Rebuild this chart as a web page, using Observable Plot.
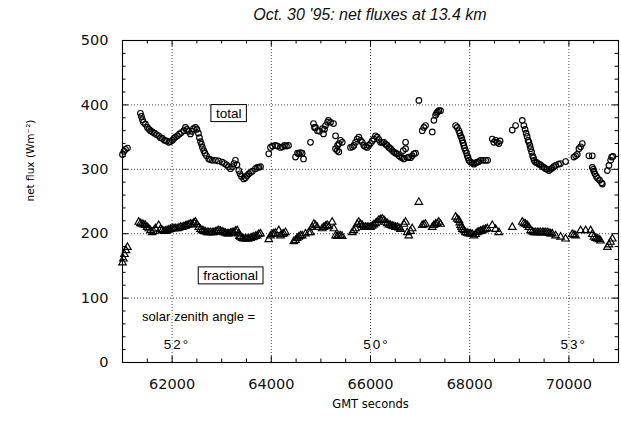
<!DOCTYPE html>
<html><head><meta charset="utf-8">
<script src="https://cdn.jsdelivr.net/npm/d3@7"></script>
<script src="https://cdn.jsdelivr.net/npm/@observablehq/plot@0.6"></script>
<style>
body{margin:0;background:#fff;}
#title{width:621px;height:28px;box-sizing:border-box;padding-left:122px;padding-right:3px;text-align:center;font:italic 16px "Liberation Sans",sans-serif;line-height:30px;color:#111;}
#chart svg{display:block;}
</style></head><body>
<div id="title">Oct. 30 '95: net fluxes at 13.4 km</div>
<div id="chart"></div>
<script>
// ---- data: total net flux (circles) ----
const totalX = [61000,61030,61060,61100,
61361,61381,61402,61422,61462,61502,61533,61563,61603,61644,61684,61730,61765,61805,61845,61886,61932,61966,62006,62037,62067,62107,62148,62188,62235,62269,62299,62329,62370,62400,62430,62471,62501,62531,62551,62572,62592,62612,62638,62662,62693,62739,62773,62813,62874,62935,63009,63056,63096,63136,63177,63217,63247,63277,63308,63344,63369,63399,63445,63479,63510,63546,63580,63620,63681,63721,63752,63782,
63949,63983,64024,64084,64125,64185,64225,64266,64306,64346,
64488,64528,64554,64588,64622,64649,64790,
64851,64871,64891,64931,64972,65032,65052,65073,65093,65133,65153,65194,65254,65295,
65295,65329,65335,65362,65365,65395,65430,
65597,65637,65664,65698,65732,65764,65799,65833,65865,65900,65934,65966,66000,66035,66067,66101,66135,66168,66202,66236,66269,66303,66337,66370,66404,66438,66471,66505,66539,66572,66606,66640,66673,66660,66707,66707,66747,66773,66807,66841,66875,66908,
66975,
67043,67076,67110,67245,67278,67312,67332,67352,67378,67412,
67715,67749,67781,67800,67816,67836,67850,67866,67882,67896,67916,67937,67951,67967,67983,68017,68052,68085,68119,68153,68186,68220,68271,68321,68361,
68455,68487,68522,68556,68588,68612,
68858,68925,69060,69092,69116,69137,69157,69177,69193,69213,69228,69248,69268,69284,69298,69328,69359,69395,69429,69464,69496,69530,69560,69597,69631,69665,69697,69732,69792,69832,69933,
70101,70135,70169,70202,70236,70270,70403,70472,
70472,70492,70504,70525,70553,70579,70619,70660,70674,
70775,70807,70841,70861,70887];
const totalY = [323,328,331,333,
387,382,377,373,370,365,362,360,358,356,354,352,349,348,345,344,342,343,345,348,350,352,355,357,360,365,362,359,355,359,363,365,362,356,349,343,339,334,329,325,321,316,315,314,314,313,311,309,307,304,301,304,309,314,307,298,293,289,285,287,290,293,295,297,301,303,303,304,
324,334,336,337,336,334,335,337,336,337,
319,325,324,326,325,316,342,
371,365,365,360,359,363,355,362,368,373,376,373,371,352,
332,329,337,327,340,345,342,
334,335,337,342,347,350,345,342,337,335,334,337,340,344,347,352,350,346,342,342,342,339,337,334,332,329,327,325,324,321,319,318,316,329,332,342,318,319,318,321,324,325,
407,
360,365,368,358,376,384,387,389,391,391,
368,365,360,356,352,349,345,341,337,333,329,325,321,318,314,311,310,308,310,311,312,314,314,314,314,
347,342,345,342,340,344,
361,368,376,368,362,356,351,345,342,337,332,327,321,318,314,311,310,308,307,304,303,301,300,298,300,302,304,306,308,309,312,
319,321,323,332,335,340,321,321,
303,300,297,293,289,286,283,279,277,
298,306,314,319,320];

// ---- data: fractional net flux (triangles) ----
const fracX = [61000,61018,61039,61069,61099,
61327,61361,61395,61428,61462,61496,61529,61563,61597,61624,61664,61730,61765,61799,61835,61866,61900,61936,61966,62001,62037,62067,62101,62138,62168,62202,62239,62269,62303,62339,62370,62404,62440,62471,62501,62537,62572,62606,62638,62672,62707,62739,62773,62807,62840,62874,62908,62941,62975,63009,63042,63076,63110,63142,63177,63211,63243,63277,63312,63338,63358,63378,63412,63445,63479,63513,63546,63580,63614,63647,63681,63715,63748,63782,
63949,63983,64018,64050,64084,64151,64185,64219,64252,64286,
64453,64488,64522,64554,64588,64622,64689,64756,64790,64824,64858,64891,64925,65026,65059,65093,65127,65160,65227,65261,65295,65329,65362,65396,65429,
65631,65664,65698,65732,65764,65799,65833,65865,65900,65934,65966,66000,66035,66067,66101,66135,66168,66202,66236,66269,66303,66337,66370,66404,66438,66471,66505,66539,66572,66606,66673,66707,66741,66773,66807,66841,
66975,
67043,67076,67110,67245,67278,67312,67345,67378,67412,
67715,67749,67781,67800,67816,67832,67850,67882,67916,67951,67983,68017,68052,68085,68119,68153,68186,68220,68254,68286,68321,68355,68455,68522,68588,
68858,69060,69092,69126,69160,69193,69228,69262,69294,69328,69362,69395,69429,69464,69496,69530,69564,69597,69631,69665,69732,69832,69933,
70068,70101,70135,70236,70337,70438,70472,70504,70539,70573,70605,70639,70775,70807,70841,70875];
const fracY = [155,161,168,174,179,
218,216,215,214,213,210,208,205,202,204,208,213,207,205,204,204,205,206,207,208,208,208,208,209,210,210,211,212,213,214,215,215,217,218,214,210,207,205,204,203,202,202,202,202,202,203,204,205,204,203,202,201,200,200,201,202,202,204,205,200,196,195,193,192,192,192,192,193,194,195,196,197,199,200,
191,197,199,200,201,205,197,199,200,202,
188,190,193,195,197,197,200,202,202,210,215,213,210,208,210,212,213,211,218,208,197,196,197,197,196,
202,205,208,215,218,215,213,210,210,210,210,210,212,214,216,218,221,222,223,221,218,216,214,213,212,211,210,210,209,207,215,218,202,197,204,208,
249,
213,214,215,210,213,215,216,218,215,
226,223,221,217,213,210,207,205,202,201,200,200,199,197,199,202,203,204,205,206,207,208,213,207,202,
210,218,216,215,213,210,205,203,202,202,202,202,202,202,202,202,202,201,200,200,197,195,192,
199,198,197,205,205,205,199,195,193,192,191,189,179,183,187,192];

// ---- axes ----
const xMajor = [62000,64000,66000,68000,70000];
const xMinor = [61500,62500,63000,63500,64500,65000,65500,66500,67000,67500,68500,69000,69500,70500];
const yMajor = [0,100,200,300,400,500];
const yGrid = [100,200,300,400];
const yMinor = [20,40,60,80,120,140,160,180,220,240,260,280,320,340,360,380,420,440,460,480];

// ---- annotations ----
const boxText = ["total","fractional"];
const boxX = [63140,63180];
const boxY = [387,135];
const noteText = ["solar zenith angle ="];
const noteX = [61395];
const noteY = [71];
const angleText = ["52°","50°","53°"];
const angleX = [62100,66120,70095];
const angleY = [28,28,28];

const total = totalX.map((x,i)=>({x, y: totalY[i]}));
const frac = fracX.map((x,i)=>({x, y: fracY[i]}));
const boxes = boxText.map((t,i)=>({t, x: boxX[i], y: boxY[i]}));
const notes = noteText.map((t,i)=>({t, x: noteX[i], y: noteY[i]}));
const angles = angleText.map((t,i)=>({t, x: angleX[i], y: angleY[i]}));

const W = 621, H = 393, mT = 12, mB = 59, mL = 122, mR = 3;
const iW = W - mL - mR, iH = H - mT - mB;
const grid = {stroke: "#333", strokeOpacity: 1, strokeWidth: 0.9, strokeDasharray: "1,2"};
const tk = {stroke: "black", strokeWidth: 1};

const chart = Plot.plot({
  width: W, height: H,
  marginTop: mT, marginBottom: mB, marginLeft: mL, marginRight: mR,
  x: {domain: [61000, 71000]},
  y: {domain: [0, 500]},
  style: {fontFamily: "DejaVu Sans", background: "white", color: "#111"},
  marks: [
    Plot.gridX(xMajor, grid),
    Plot.gridY(yGrid, grid),
    Plot.ruleX(xMinor, {...tk, insetTop: iH - 3.5}),
    Plot.ruleX(xMinor, {...tk, insetBottom: iH - 3.5}),
    Plot.ruleX(xMajor, {...tk, insetTop: iH - 6}),
    Plot.ruleX(xMajor, {...tk, insetBottom: iH - 6}),
    Plot.ruleY(yMinor, {...tk, insetRight: iW - 3.5}),
    Plot.ruleY(yMinor, {...tk, insetLeft: iW - 3.5}),
    Plot.ruleY(yMajor, {...tk, insetRight: iW - 6}),
    Plot.ruleY(yMajor, {...tk, insetLeft: iW - 6}),
    Plot.axisX(xMajor, {tickSize: 0, tickPadding: 16, fontSize: 14.5, label: null, tickFormat: d => String(d)}),
    Plot.axisY(yMajor, {tickSize: 0, tickPadding: 14, fontSize: 14.5, label: null}),
    Plot.frame({stroke: "black", strokeWidth: 1.1}),
    Plot.dot(total, {x: "x", y: "y", r: 2.8, stroke: "black", strokeWidth: 1.15, fill: "none"}),
    Plot.dot(frac, {x: "x", y: "y", symbol: "triangle", r: 2.8, stroke: "black", strokeWidth: 1.15, fill: "none"}),
    Plot.text(boxes, {x: "x", y: "y", text: "t", fontFamily: "Liberation Sans", fontSize: 13.5, fill: "black"}),
    Plot.text(notes, {x: "x", y: "y", text: "t", textAnchor: "start", fontFamily: "Liberation Sans", fontSize: 13, fill: "black", stroke: "white", strokeWidth: 4}),
    Plot.text(angles, {x: "x", y: "y", text: "t", fontFamily: "Liberation Sans", fontSize: 13.5, fill: "black", stroke: "white", strokeWidth: 3}),
    Plot.text(["GMT seconds"], {text: d => d, frameAnchor: "bottom", dy: 45.5, fontSize: 11.5, fill: "black"}),
    Plot.text(["net flux (Wm⁻²)"], {text: d => d, frameAnchor: "left", dx: -92, rotate: -90, fontSize: 10.5, fill: "black"})
  ]
});
document.getElementById("chart").appendChild(chart);

// draw boxes around the label texts
chart.querySelectorAll("text").forEach(t => {
  if (boxText.includes(t.textContent)) {
    const b = t.getBBox();
    const r = document.createElementNS("http://www.w3.org/2000/svg", "rect");
    r.setAttribute("x", b.x - 5);
    r.setAttribute("y", b.y - 1);
    r.setAttribute("width", b.width + 10);
    r.setAttribute("height", b.height + 2);
    r.setAttribute("fill", "white");
    r.setAttribute("stroke", "black");
    r.setAttribute("stroke-width", "1");
    if (t.getAttribute("transform")) r.setAttribute("transform", t.getAttribute("transform"));
    t.parentNode.insertBefore(r, t);
  }
  if (angleText.includes(t.textContent)) t.style.letterSpacing = "2px";
});
</script>
</body></html>
